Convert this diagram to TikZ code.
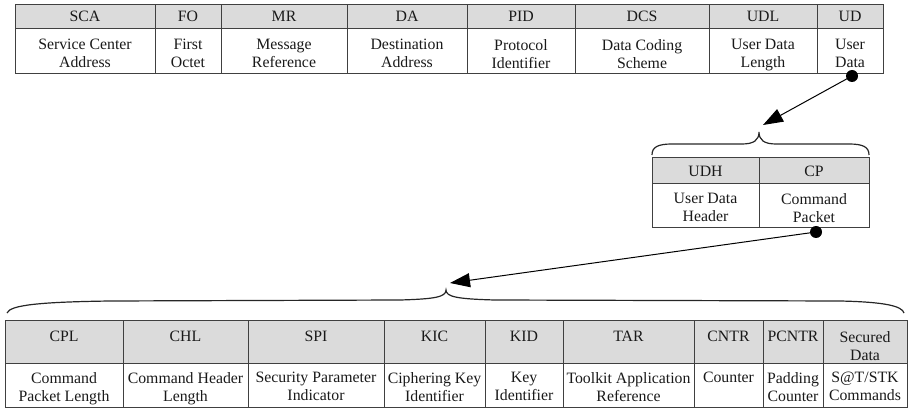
\documentclass[tikz,border=0pt]{standalone}
\usepackage{fontspec}
\setmainfont{Liberation Serif}
\usetikzlibrary{arrows.meta}
\newcommand{\ms}{\rule[-5pt]{0pt}{13pt}}
\newcommand{\hoff}{4}
\newcommand{\boff}{7}
\newcommand{\cellpair}[8]{%
  \fill[hdrfill] (#2,#4) rectangle (#3,#5);
  \draw[cellline] (#2,#4) rectangle (#3,#5);
  \draw[cellline] (#2,#5) rectangle (#3,#6);
  \node[lbl] (#1h) at ({(#2+#3)/2},{#4+\hoff}) {#7};
  \node[lbl] (#1b) at ({(#2+#3)/2},{#5+\boff}) {#8};
}
\begin{document}
\begin{tikzpicture}[x=1pt,y=-1pt,
  hdrfill/.style={fill=black!14},
  cellline/.style={draw=black!75,line width=1pt},
  lbl/.style={inner sep=0pt,anchor=north,align=center,
    font=\fontsize{15.8}{18}\selectfont,text=black!90,execute at begin node={\ms}},
  dotnode/.style={circle,fill=black,inner sep=0pt,minimum size=12pt},
  arr/.style={-{Triangle[length=20pt,width=14pt]},line width=1pt},
  bracestyle/.style={line width=1.2pt,black!85}]
\useasboundingbox (0,0) rectangle (909,411);
% top table
\renewcommand{\hoff}{6}\renewcommand{\boff}{10}
\cellpair{sca}{15}{155}{5}{29}{74}{SCA}{Service Center\\Address}
\cellpair{fo}{155}{221}{5}{29}{74}{FO}{First\\Octet}
\cellpair{mr}{221}{347}{5}{29}{74}{MR}{Message\\Reference}
\cellpair{da}{347}{467}{5}{29}{74}{DA}{Destination\\Address}
\cellpair{pid}{467}{575}{5}{29}{74}{PID}{Protocol\\Identifier}
\cellpair{dcs}{575}{709}{5}{29}{74}{DCS}{Data Coding\\Scheme}
\cellpair{udl}{709}{817}{5}{29}{74}{UDL}{User Data\\Length}
\cellpair{ud}{817}{883}{5}{29}{74}{UD}{User\\Data}
% middle table
\renewcommand{\hoff}{8}\renewcommand{\boff}{9}
\cellpair{udh}{652}{759}{158}{184}{228}{UDH}{User Data\\Header}
\cellpair{cp}{759}{869}{158}{184}{228}{CP}{Command\\Packet}
% bottom table
\renewcommand{\hoff}{11}\renewcommand{\boff}{9}
\cellpair{cpl}{5}{123}{320}{363}{407}{CPL}{Command\\Packet Length}
\cellpair{chl}{123}{248}{320}{363}{407}{CHL}{Command Header\\Length}
\cellpair{spi}{248}{384}{320}{363}{407}{SPI}{Security Parameter\\Indicator}
\cellpair{kic}{384}{485}{320}{363}{407}{KIC}{Ciphering Key\\Identifier}
\cellpair{kid}{485}{563}{320}{363}{407}{KID}{Key\\Identifier}
\cellpair{tar}{563}{694}{320}{363}{407}{TAR}{Toolkit Application\\Reference}
\cellpair{cntr}{694}{763}{320}{363}{407}{CNTR}{Counter}
\cellpair{pcntr}{763}{823}{320}{363}{407}{PCNTR}{Padding\\Counter}
\cellpair{sd}{823}{907}{320}{363}{407}{Secured\\Data}{S@T/STK\\Commands}
% braces
\coordinate (b1) at (759,132);
\draw[bracestyle] (652,155) .. controls (652,147) and (658,144) .. (672,144)
  -- (742,144) .. controls (754,144) and (759,140) .. (b1)
  .. controls (759,140) and (764,144) .. (776,144)
  -- (849,144) .. controls (863,144) and (869,147) .. (869,155);
\coordinate (b2) at (446,290);
\draw[bracestyle] (7,313) .. controls (10,305) and (40,302) .. (110,301)
  -- (400,300) .. controls (435,299) and (446,297) .. (b2)
  .. controls (446,297) and (458,299) .. (495,300)
  -- (840,301) .. controls (885,302) and (902,306) .. (904,313);
% dots and arrows
\node[dotnode] (d1) at (852,76) {};
\node[dotnode] (d2) at (816,232) {};
\coordinate (t1) at (763,125);
\coordinate (t2) at (450,283);
\draw[arr] (d1.center) -- (t1);
\draw[arr] (d2.center) -- (t2);
\end{tikzpicture}
\end{document}
